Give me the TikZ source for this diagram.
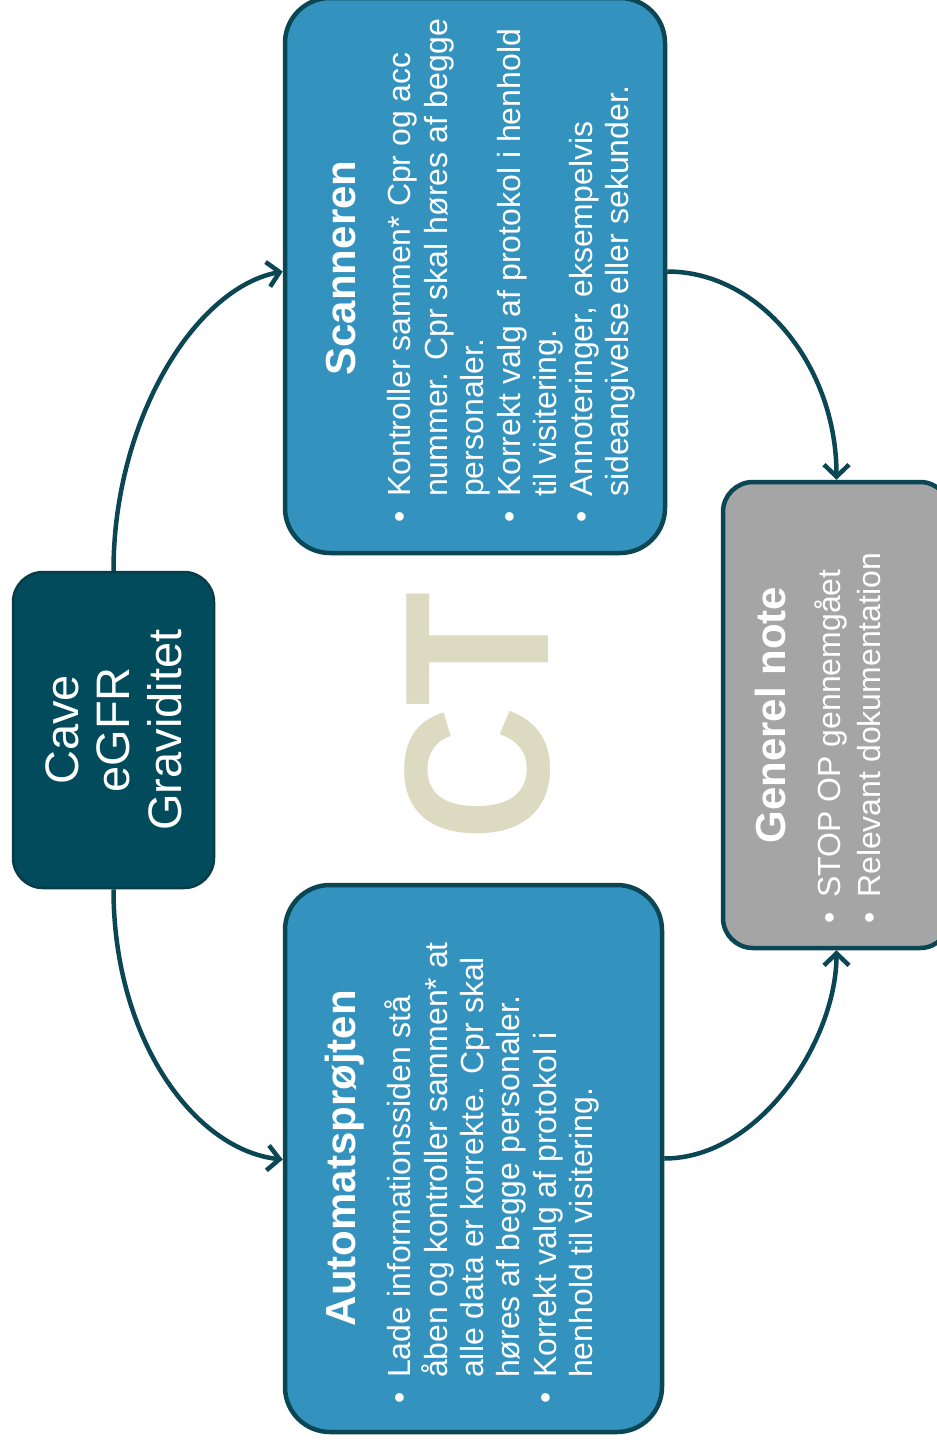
\documentclass[tikz,border=0pt]{standalone}
\usepackage{fontspec}
\setmainfont{Liberation Sans}
\usetikzlibrary{arrows.meta,calc}
\definecolor{darkteal}{HTML}{024B5C}
\definecolor{linec}{HTML}{0B4655}
\definecolor{boxblue}{HTML}{3393BE}
\definecolor{boxgray}{HTML}{A5A5A5}
\definecolor{ctc}{HTML}{DDDAC2}
\newcommand{\bul}{\llap{\textbullet\hspace{14pt}}}
\begin{document}
\begin{tikzpicture}[x=1pt,y=-1pt,
  bluebox/.style={draw=linec, line width=4.5pt, fill=boxblue, rounded corners=45pt, rotate=90, inner sep=0pt},
  graybox/.style={draw=linec, line width=4.5pt, fill=boxgray, rounded corners=30pt, rotate=90, inner sep=0pt},
  cavebox/.style={draw=linec!85!black, line width=2.5pt, fill=darkteal, rounded corners=30pt, rotate=90, inner sep=0pt, text=white, align=center, font=\fontsize{47}{51.5}\selectfont},
  titletext/.style={rotate=90, anchor=base, inner sep=0pt, text=white, font=\bfseries\fontsize{42}{48}\selectfont},
  bodytext/.style={rotate=90, anchor=base west, inner sep=0pt, text=white, font=\fontsize{32}{36}\selectfont},
  flow/.style={draw=linec, line width=4.5pt, -{Straight Barb[length=12pt,width=25pt]}}
]
\useasboundingbox (0,0) rectangle (937,1444);
\fill[white] (0,0) rectangle (937,1444);

% boxes
\node[cavebox, minimum width=316pt, minimum height=201pt] (cave) at (113.5,730) {Cave\\eGFR\\Graviditet};
\node[bluebox, minimum width=555pt, minimum height=380pt] (scan) at (475,275.5) {};
\node[bluebox, minimum width=547pt, minimum height=377pt] (auto) at (473.5,1158.5) {};
\node[graybox, minimum width=466pt, minimum height=227pt] (gen) at (836.5,715) {};

% big CT
\node[rotate=90, anchor=base, inner sep=0pt, text=ctc, font=\bfseries\fontsize{206}{206}\selectfont] (ct) at (548,717) {\scalebox{0.91}[1]{CT}};

% Scanneren text
\node[titletext] (scantitle) at (355,268) {Scanneren};
\node[bodytext] (s1) at (410,497) {\bul Kontroller sammen* Cpr og acc};
\node[bodytext] (s2) at (447,497) {nummer. Cpr skal høres af begge};
\node[bodytext] (s3) at (483,497) {personaler.};
\node[bodytext] (s4) at (520,497) {\bul Korrekt valg af protokol i henhold};
\node[bodytext] (s5) at (556,497) {til visitering.};
\node[bodytext] (s6) at (592,497) {\bul Annoteringer, eksempelvis};
\node[bodytext] (s7) at (628,497) {sideangivelse eller sekunder.};

% Automatsprøjten text
\node[titletext] (autotitle) at (355,1158) {Automatsprøjten};
\node[bodytext] (a1) at (410,1378) {\bul Lade informationssiden stå};
\node[bodytext] (a2) at (447,1378) {åben og kontroller sammen* at};
\node[bodytext] (a3) at (483,1378) {alle data er korrekte. Cpr skal};
\node[bodytext] (a4) at (519,1378) {høres af begge personaler.};
\node[bodytext] (a5) at (556,1378) {\bul Korrekt valg af protokol i};
\node[bodytext] (a6) at (592,1378) {henhold til visitering.};

% Generel note text
\node[titletext] (gentitle) at (785,715) {Generel note};
\node[bodytext] (g1) at (840,898) {\bul STOP OP gennemgået};
\node[bodytext] (g2) at (880,898) {\bul Relevant dokumentation};

% connectors
\draw[flow] (cave.east) .. controls (113.5,420) and (195,288) .. ($(scan.north)+(0,-4)$);
\draw[flow] (cave.west) .. controls (113.5,1040) and (195,1150) .. ($(auto.north)+(0,1)$);
\draw[flow] ($(scan.south)+(0,-4)$) .. controls (760,271.5) and (836.5,366) .. (gen.east);
\draw[flow] (auto.south) .. controls (760,1158.5) and (836.5,1040) .. (gen.west);
\end{tikzpicture}
\end{document}
